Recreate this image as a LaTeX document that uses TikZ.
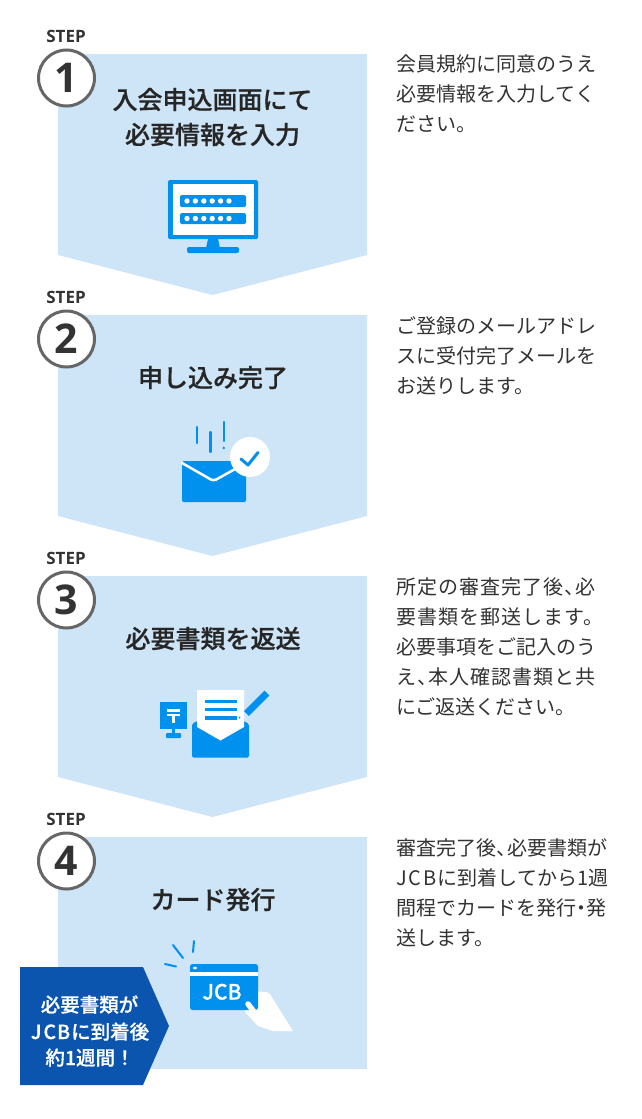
\documentclass[tikz,border=0pt]{standalone}
\usepackage{fontspec}
\setmainfont{Noto Sans CJK JP}
\newfontfamily\stepfont{Open Sans}
\newfontfamily\medfont[FakeBold=0.6]{Noto Sans CJK JP Medium}
\definecolor{panel}{HTML}{CEE5F8}
\definecolor{icon}{HTML}{0090EE}
\definecolor{badge}{HTML}{0B55AF}
\definecolor{ink}{HTML}{333333}
\definecolor{ringc}{HTML}{666666}
\newcommand{\tou}{、\kern-0.42em}
\newcommand{\nakag}{\kern-0.25em・\kern-0.25em}
\newcommand{\wider}{\addfontfeature{LetterSpace=5}}
\tikzset{
 panelshape/.style={fill=panel,draw=none},
 ring/.style={circle,draw=ringc,line width=3pt,fill=white,minimum size=56pt,inner sep=0pt,text=ink,font=\stepfont\fontsize{41}{41}\selectfont\bfseries},
 steplabel/.style={anchor=base,inner sep=0pt,text=ink,font=\stepfont\fontsize{17}{17}\selectfont\bfseries},
 title/.style={anchor=base,inner sep=0pt,text=black!85,font=\medfont\fontsize{25}{25}\selectfont},
 body/.style={anchor=base west,inner sep=0pt,text=ink,font=\fontsize{20}{20}\selectfont},
 badgetext/.style={anchor=base,inner sep=0pt,text=white,font=\medfont\fontsize{19.5}{19.5}\selectfont},
 iconfill/.style={fill=icon,draw=none},
 whitefill/.style={fill=white,draw=none},
 iconline/.style={draw=icon,line width=2.2pt,line cap=round},
 whiteline/.style={draw=white,line width=2.5pt,line cap=round},
}
\begin{document}
\begin{tikzpicture}[x=1pt,y=-1pt]
\useasboundingbox (0,0) rectangle (641,1119);
% panels
\fill[panelshape] (58,54) -- (367,54) -- (367,255) -- (212.5,295) -- (58,255) -- cycle;
\fill[panelshape] (58,315) -- (367,315) -- (367,516) -- (212.5,556) -- (58,516) -- cycle;
\fill[panelshape] (58,576) -- (367,576) -- (367,777) -- (212.5,817) -- (58,777) -- cycle;
\fill[panelshape] (58,837) rectangle (367,1069);
% step labels
\node[steplabel] (s1) at (66,42.5) {STEP};
\node[steplabel] (s2) at (66,303.5) {STEP};
\node[steplabel] (s3) at (66,564.5) {STEP};
\node[steplabel] (s4) at (66,825.5) {STEP};
\node[ring] (n1) at (66.5,78) {1};
\node[ring] (n2) at (66.5,339) {2};
\node[ring] (n3) at (66.5,600) {3};
\node[ring] (n4) at (66.5,861) {4};
% titles
\node[title] (t1a) at (212.5,109) {入会申込画面にて};
\node[title] (t1b) at (212.5,144) {必要情報を入力};
\node[title] (t2) at (213,387) {申し込み完了};
\node[title] (t3) at (213,648) {必要書類を返送};
\node[title] (t4) at (213,909) {カード発行};
% body text
\node[body] (b1a) at (396,71.5) {会員規約に同意のうえ};
\node[body] (b1b) at (396,101.5) {必要情報を入力してく};
\node[body] (b1c) at (396,131.5) {ださい。};
\node[body] (b2a) at (396,333) {ご登録のメールアドレ};
\node[body] (b2b) at (396,363) {スに受付完了メールを};
\node[body] (b2c) at (396,393) {お送りします。};
\node[body] (b3a) at (396,594) {\wider 所定の審査完了後\tou 必};
\node[body] (b3b) at (396,624) {\wider 要書類を郵送します。};
\node[body] (b3c) at (396,654) {必要事項をご記入のう};
\node[body] (b3d) at (396,684) {\wider え\tou 本人確認書類と共};
\node[body] (b3e) at (396,714) {にご返送ください。};
\node[body] (b4a) at (396,855) {審査完了後\tou 必要書類が};
\node[body] (b4b) at (396,885) {J\kern2pt C\kern2pt B\kern1pt に到着してから1週};
\node[body] (b4c) at (396,915) {間程でカードを発行\nakag 発};
\node[body] (b4d) at (396,945) {送します。};
% icon 1: monitor
\fill[iconfill,rounded corners=1.5pt] (168,180) rectangle (258,239);
\fill[whitefill] (173,184) rectangle (254,235);
\fill[iconfill,rounded corners=1.5pt] (180,195) rectangle (246,207);
\fill[iconfill,rounded corners=1.5pt] (180,213) rectangle (246,224);
\foreach \dx in {187,195.4,203.8,212.2,220.6,229}{
  \fill[whitefill] (\dx,201) circle (2.7);
  \fill[whitefill] (\dx,218.5) circle (2.7);
}
\fill[iconfill] (208,239) -- (218,239) -- (220,248) -- (206,248) -- cycle;
\fill[iconfill,rounded corners=2pt] (187,247) rectangle (239,253);
% icon 2: mail
\draw[iconline] (197,427) -- (197,443);
\draw[iconline] (210.5,432) -- (210.5,452);
\draw[iconline] (223.7,422) -- (223.7,441);
\fill[iconfill] (223.7,448) circle (1.4);
\fill[iconfill,rounded corners=1.5pt] (182,461) rectangle (246,502);
\draw[whiteline,rounded corners=3pt] (182,463) -- (213.5,481) -- (246,463);
\fill[whitefill] (250,457) circle (20);
\draw[draw=icon,line width=3pt,line cap=round,line join=round] (241,459) -- (248,465) -- (258,452.5);
% icon 3: post and letter
\fill[iconfill] (160,702) rectangle (187,729);
\fill[iconfill] (171.5,729) rectangle (174.5,734);
\fill[iconfill,rounded corners=1pt] (166,733) rectangle (181,738);
\fill[whitefill] (167,709) rectangle (180,711.5);
\fill[whitefill] (167,713.5) rectangle (180,716);
\fill[whitefill] (172,714) rectangle (175,722.5);
\fill[iconfill,rounded corners=1.5pt] (192,724) -- (197,721) -- (244,721) -- (249,724) -- (249,757.5) -- (192,757.5) -- cycle;
\fill[whitefill] (197,690) -- (244,690) -- (244,727) -- (220.5,740.5) -- (197,727) -- cycle;
\fill[iconfill] (205,699.5) rectangle (237,703);
\fill[iconfill] (205,707.5) rectangle (237,711);
\fill[iconfill] (205,716) rectangle (237,719.5);
\draw[draw=icon,line width=7pt] (246.5,713.5) -- (267,693);
\fill[iconfill] (239.5,717.5) circle (1);
% icon 4: card
\draw[iconline,line width=2pt] (173,945) -- (183,958);
\draw[iconline,line width=2pt] (194,941) -- (193,952);
\draw[iconline,line width=2pt] (165,964) -- (176,966.5);
\fill[whitefill] (250,991) -- (267,992) .. controls (270,993) and (271,996) .. (273,999) -- (293,1031) -- (273,1031) -- (258,1026) -- (245,1012) -- cycle;
\fill[iconfill,rounded corners=2.5pt] (190,964) rectangle (258,1010);
\fill[whitefill] (190,972) rectangle (258,976);
\fill[whitefill] (195,968) ellipse (2 and 1.3);
\node[anchor=base,inner sep=0pt,text=white,font=\medfont\fontsize{21}{21}\selectfont] (jcb) at (222,999.5) {JCB};
\draw[whiteline,line width=5.5pt] (248,1004) -- (258,1017);
% badge
\fill[fill=badge] (20,967) -- (143,967) -- (169,1026) -- (143,1085) -- (20,1085) -- cycle;
\node[badgetext] (ba) at (89.5,1012) {必要書類が};
\node[badgetext] (bb) at (90,1039) {J\kern2pt C\kern1pt B\kern1pt に到着後};
\node[badgetext] (bc) at (90,1065) {約1週間！};
\end{tikzpicture}
\end{document}
